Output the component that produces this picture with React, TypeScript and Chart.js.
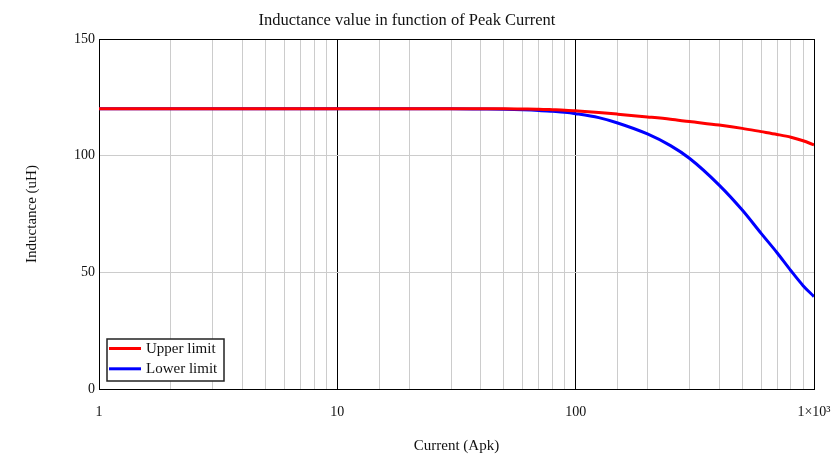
import React, { useEffect, useRef } from "react";
import { Chart, registerables } from "chart.js";

Chart.register(...registerables);

const currents = [1, 2, 5, 10, 20, 30, 40, 50, 60, 70, 80, 90, 100, 125, 150, 200, 250, 300, 400, 500, 600, 700, 800, 900, 1000];
const upperLimit = [120.1, 120.1, 120.1, 120.1, 120.1, 120.1, 120.1, 120.1, 120.0, 119.9, 119.7, 119.5, 119.2, 118.5, 117.8, 116.6, 115.6, 114.6, 113.1, 111.7, 110.3, 109.1, 107.9, 106.4, 104.6];
const lowerLimit = [120.1, 120.1, 120.1, 120.1, 120.1, 120.1, 120.0, 119.9, 119.7, 119.4, 119.0, 118.6, 118.0, 116.3, 114.0, 109.3, 104.3, 98.9, 87.4, 76.7, 66.7, 58.4, 50.7, 44.3, 39.6];
const xTickLabels: Record<number, string> = { 1: "1", 10: "10", 100: "100", 1000: "1×10³" };
const yTicks = { min: 0, max: 150, step: 50 };
const seriesNames = ["Upper limit", "Lower limit"];
const seriesColors = ["#ff0000", "#0000ff"];

const FONT = "'Liberation Serif', 'Times New Roman', serif";

const isDecade = (v: number) => {
  const l = Math.log10(v);
  return Math.abs(l - Math.round(l)) < 1e-9;
};

const insideLegend = {
  id: "insideLegend",
  afterDatasetsDraw(chart: any) {
    const { ctx, chartArea } = chart;
    const x0 = chartArea.left + 8;
    const y0 = chartArea.bottom - 50;
    const w = 117;
    const h = 42;
    ctx.save();
    ctx.fillStyle = "#ffffff";
    ctx.fillRect(x0, y0, w, h);
    ctx.strokeStyle = "#222222";
    ctx.lineWidth = 1.5;
    ctx.strokeRect(x0, y0, w, h);
    chart.data.datasets.forEach((ds: any, i: number) => {
      const y = y0 + 9.5 + i * 20.3;
      ctx.strokeStyle = ds.borderColor;
      ctx.lineWidth = 3;
      ctx.beginPath();
      ctx.moveTo(x0 + 2, y);
      ctx.lineTo(x0 + 34, y);
      ctx.stroke();
      ctx.fillStyle = "#111111";
      ctx.font = `15px ${FONT}`;
      ctx.textBaseline = "middle";
      ctx.textAlign = "left";
      ctx.fillText(ds.label, x0 + 39, y + 0.5);
    });
    ctx.restore();
  },
};

export default function App() {
  const canvasRef = useRef<HTMLCanvasElement | null>(null);

  useEffect(() => {
    document.body.style.margin = "0";
    const canvas = canvasRef.current;
    if (!canvas) return;
    const makeData = (vals: number[]) => currents.map((c, i) => ({ x: c, y: vals[i] }));
    const chart = new Chart(canvas, {
      type: "line",
      data: {
        datasets: [
          {
            label: seriesNames[0],
            data: makeData(upperLimit),
            borderColor: seriesColors[0],
            backgroundColor: seriesColors[0],
            borderWidth: 3,
            pointRadius: 0,
            cubicInterpolationMode: "monotone",
          },
          {
            label: seriesNames[1],
            data: makeData(lowerLimit),
            borderColor: seriesColors[1],
            backgroundColor: seriesColors[1],
            borderWidth: 3,
            pointRadius: 0,
            cubicInterpolationMode: "monotone",
          },
        ],
      },
      options: {
        animation: false,
        responsive: true,
        maintainAspectRatio: false,
        layout: { padding: { left: 0, right: 26, top: 0, bottom: 0 } },
        plugins: {
          legend: { display: false },
          tooltip: { enabled: false },
          title: {
            display: true,
            text: "Inductance value in function of Peak Current",
            color: "#111111",
            font: { family: FONT, size: 16.5, weight: "normal" },
            padding: { top: 11, bottom: 8.2 },
          },
        },
        scales: {
          x: {
            type: "logarithmic",
            min: 1,
            max: 1000,
            afterFit(scale: any) {
              scale.height = 71;
              scale.paddingRight = 0;
              scale.paddingLeft = 0;
            },
            border: { display: true, color: "#000000", width: 1 },
            grid: {
              drawTicks: false,
              lineWidth: 1,
              color: (ctx: any) =>
                ctx.tick && isDecade(ctx.tick.value) ? "#000000" : "#cccccc",
            },
            ticks: {
              autoSkip: false,
              maxRotation: 0,
              minRotation: 0,
              padding: 15,
              color: "#111111",
              font: { family: FONT, size: 14 },
              callback: (value: any) => {
                const v = Number(value);
                for (const k of Object.keys(xTickLabels)) {
                  if (Math.abs(Number(k) - v) < 1e-9) return xTickLabels[Number(k)];
                }
                return "";
              },
            },
            title: {
              display: true,
              text: "Current (Apk)",
              color: "#111111",
              font: { family: FONT, size: 15 },
              padding: { top: 0, bottom: 5 },
            },
          },
          y: {
            type: "linear",
            min: yTicks.min,
            max: yTicks.max,
            afterFit(scale: any) {
              scale.width = 99;
            },
            border: { display: true, color: "#000000", width: 1 },
            grid: {
              drawTicks: false,
              lineWidth: 1,
              color: (ctx: any) =>
                ctx.tick && (ctx.tick.value === yTicks.max || ctx.tick.value === yTicks.min)
                  ? "#000000"
                  : "#cccccc",
            },
            ticks: {
              stepSize: yTicks.step,
              padding: 4,
              color: "#111111",
              font: { family: FONT, size: 14 },
            },
            title: {
              display: true,
              text: "Inductance (uH)",
              color: "#111111",
              font: { family: FONT, size: 15 },
              padding: { top: 23, bottom: 0 },
            },
          },
        },
      },
      plugins: [insideLegend],
    } as any);
    return () => chart.destroy();
  }, []);

  return (
    <div style={{ position: "absolute", left: 0, top: 0, width: 840, height: 460, background: "#ffffff" }}>
      <canvas ref={canvasRef} />
    </div>
  );
}
